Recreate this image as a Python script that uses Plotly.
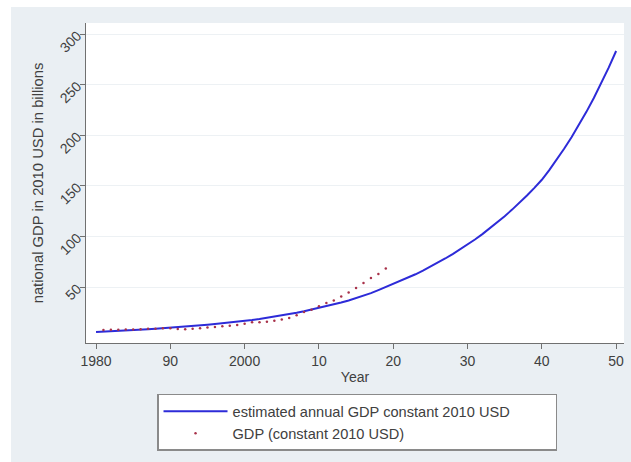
import plotly.graph_objects as go

# Estimated annual GDP (fitted curve), 1980-2050, billions of constant 2010 USD
est_years = list(range(1980, 2051))
est_gdp = [
    5.5, 5.8, 6.1, 6.5, 6.9, 7.3, 7.7, 8.2, 8.7, 9.2,
    9.8, 10.3, 10.9, 11.5, 12.1, 12.8, 13.5, 14.2, 15.0, 15.7,
    16.5, 17.5, 18.5, 19.6, 20.7, 21.9, 23.2, 24.6, 26.0, 27.6,
    29.3, 31.0, 32.8, 34.7, 36.7, 38.9, 41.2, 44.0, 47.0, 50.0,
    53.0, 56.0, 59.2, 62.6, 66.2, 70.0, 74.0, 78.2, 82.6, 87.2,
    92.0, 97.0, 102.3, 107.9, 113.8, 120.0, 126.5, 133.3, 140.5, 148.0,
    156.0, 165.6, 175.8, 186.6, 198.0, 210.2, 223.1, 236.8, 251.4, 266.8,
    283.2,
]

# Observed GDP (constant 2010 USD), 1981-2019
obs_years = list(range(1981, 2020))
obs_gdp = [
    7.5, 7.8, 7.9, 8.0, 8.0, 8.3, 8.7, 8.9, 9.2,
    9.3, 8.6, 8.4, 8.8, 9.3, 9.9, 10.5, 11.2, 11.8, 12.6,
    13.8, 15.1, 15.1, 15.8, 16.8, 17.8, 19.4, 22.0, 25.3, 27.6,
    30.9, 34.2, 36.8, 40.7, 44.7, 49.0, 54.0, 58.9, 62.8, 68.3,
]

x_tickvals = [1980, 1990, 2000, 2010, 2020, 2030, 2040, 2050]
x_ticktext = ["1980", "90", "2000", "10", "20", "30", "40", "50"]
y_tickvals = [50, 100, 150, 200, 250, 300]

FONT = "Liberation Sans, Arial, sans-serif"
TXT = "#404040"
BG = "#eaeff3"

fig = go.Figure()
fig.add_trace(go.Scatter(
    x=est_years, y=est_gdp, mode="lines",
    name="estimated annual GDP constant 2010 USD",
    line=dict(color="#2d2bd8", width=2),
))
fig.add_trace(go.Scatter(
    x=obs_years, y=obs_gdp, mode="markers",
    name="GDP (constant 2010 USD)",
    marker=dict(color="#a8324a", size=2.5),
))

fig.update_layout(
    width=631, height=462,
    margin=dict(l=86, r=7, t=23, b=119),
    paper_bgcolor=BG,
    plot_bgcolor="white",
    font=dict(family=FONT, size=13, color=TXT),
    showlegend=True,
    legend=dict(
        orientation="h",
        x=0.132, y=-0.159, xanchor="left", yanchor="top",
        bgcolor="white", bordercolor="#8a8a8a", borderwidth=1.5,
        font=dict(family=FONT, size=14.6, color=TXT),
        itemwidth=64,
        entrywidth=318, entrywidthmode="pixels",
    ),
    xaxis=dict(
        range=[1978.65, 2051.06],
        tickmode="array", tickvals=x_tickvals, ticktext=x_ticktext,
        ticks="outside", ticklen=5, tickcolor="#707070",
        showline=True, linecolor="#707070", linewidth=1,
        showgrid=False, zeroline=False,
        tickfont=dict(size=14),
        title=dict(text="Year", font=dict(size=14), standoff=4),
    ),
    yaxis=dict(
        range=[-5.3, 310.9],
        tickmode="array", tickvals=y_tickvals,
        tickangle=-45,
        ticks="outside", ticklen=5, tickcolor="#707070",
        showline=True, linecolor="#707070", linewidth=1,
        showgrid=True, gridcolor="#edf1f4", gridwidth=1,
        zeroline=False,
        tickfont=dict(size=14),
        title=dict(text="national GDP in 2010 USD in billions", font=dict(size=14.8), standoff=9),
    ),
    shapes=[
        dict(type="rect", xref="paper", yref="paper", x0=-0.2, x1=1.1,
             y0=1.0 + 16 / 320, y1=1.2, fillcolor="white", line_width=0, layer="below"),
        dict(type="rect", xref="paper", yref="paper", x0=-0.2, x1=-75 / 538,
             y0=-0.5, y1=1.2, fillcolor="white", line_width=0, layer="below"),
    ],
)

fig.write_html("out.html")
